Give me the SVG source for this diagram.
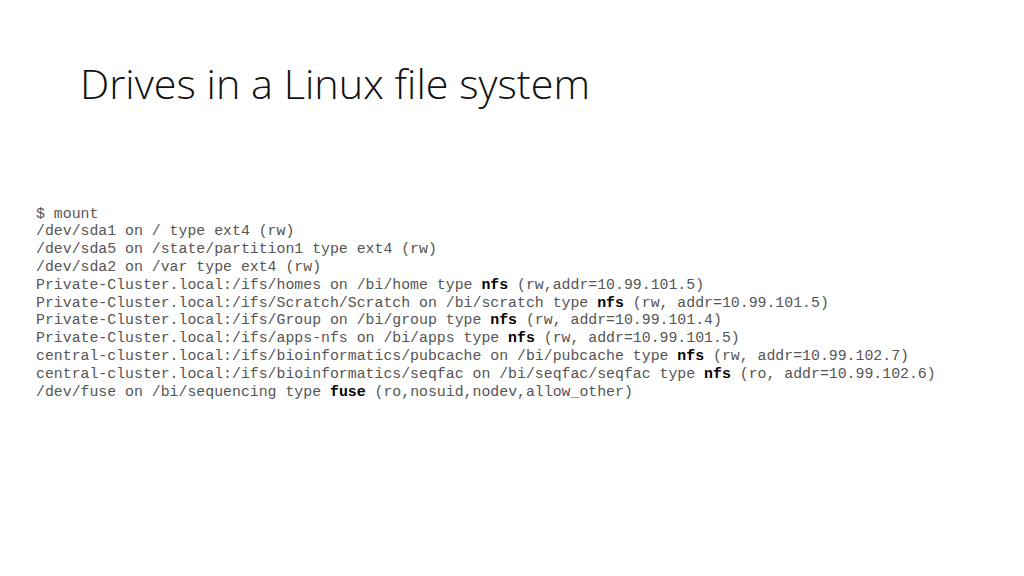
<svg xmlns="http://www.w3.org/2000/svg" width="1024" height="576" viewBox="0 0 1024 576">
<style>
.title{font-family:"Open Sans","Liberation Sans",sans-serif;font-weight:300;font-size:41px;fill:#111}
.mono{font-family:"Liberation Mono","DejaVu Sans Mono",monospace;font-size:14.85px;fill:#555;white-space:pre}
.b{font-weight:bold;fill:#000}
</style>
<rect width="1024" height="576" fill="#fff"/>
<g id="title"><text class="title" x="80" y="99" textLength="510" lengthAdjust="spacingAndGlyphs">Drives in a Linux file system</text></g>
<g id="output">
<text class="mono" x="36" y="217.5">$ mount</text>
<text class="mono" x="36" y="235.3">/dev/sda1 on / type ext4 (rw)</text>
<text class="mono" x="36" y="253.1">/dev/sda5 on /state/partition1 type ext4 (rw)</text>
<text class="mono" x="36" y="270.9">/dev/sda2 on /var type ext4 (rw)</text>
<text class="mono" x="36" y="288.7">Private-Cluster.local:/ifs/homes on /bi/home type <tspan class="b">nfs</tspan> (rw,addr=10.99.101.5)</text>
<text class="mono" x="36" y="306.5">Private-Cluster.local:/ifs/Scratch/Scratch on /bi/scratch type <tspan class="b">nfs</tspan> (rw, addr=10.99.101.5)</text>
<text class="mono" x="36" y="324.3">Private-Cluster.local:/ifs/Group on /bi/group type <tspan class="b">nfs</tspan> (rw, addr=10.99.101.4)</text>
<text class="mono" x="36" y="342.1">Private-Cluster.local:/ifs/apps-nfs on /bi/apps type <tspan class="b">nfs</tspan> (rw, addr=10.99.101.5)</text>
<text class="mono" x="36" y="359.9">central-cluster.local:/ifs/bioinformatics/pubcache on /bi/pubcache type <tspan class="b">nfs</tspan> (rw, addr=10.99.102.7)</text>
<text class="mono" x="36" y="377.7">central-cluster.local:/ifs/bioinformatics/seqfac on /bi/seqfac/seqfac type <tspan class="b">nfs</tspan> (ro, addr=10.99.102.6)</text>
<text class="mono" x="36" y="395.5">/dev/fuse on /bi/sequencing type <tspan class="b">fuse</tspan> (ro,nosuid,nodev,allow_other)</text>
</g>
</svg>
